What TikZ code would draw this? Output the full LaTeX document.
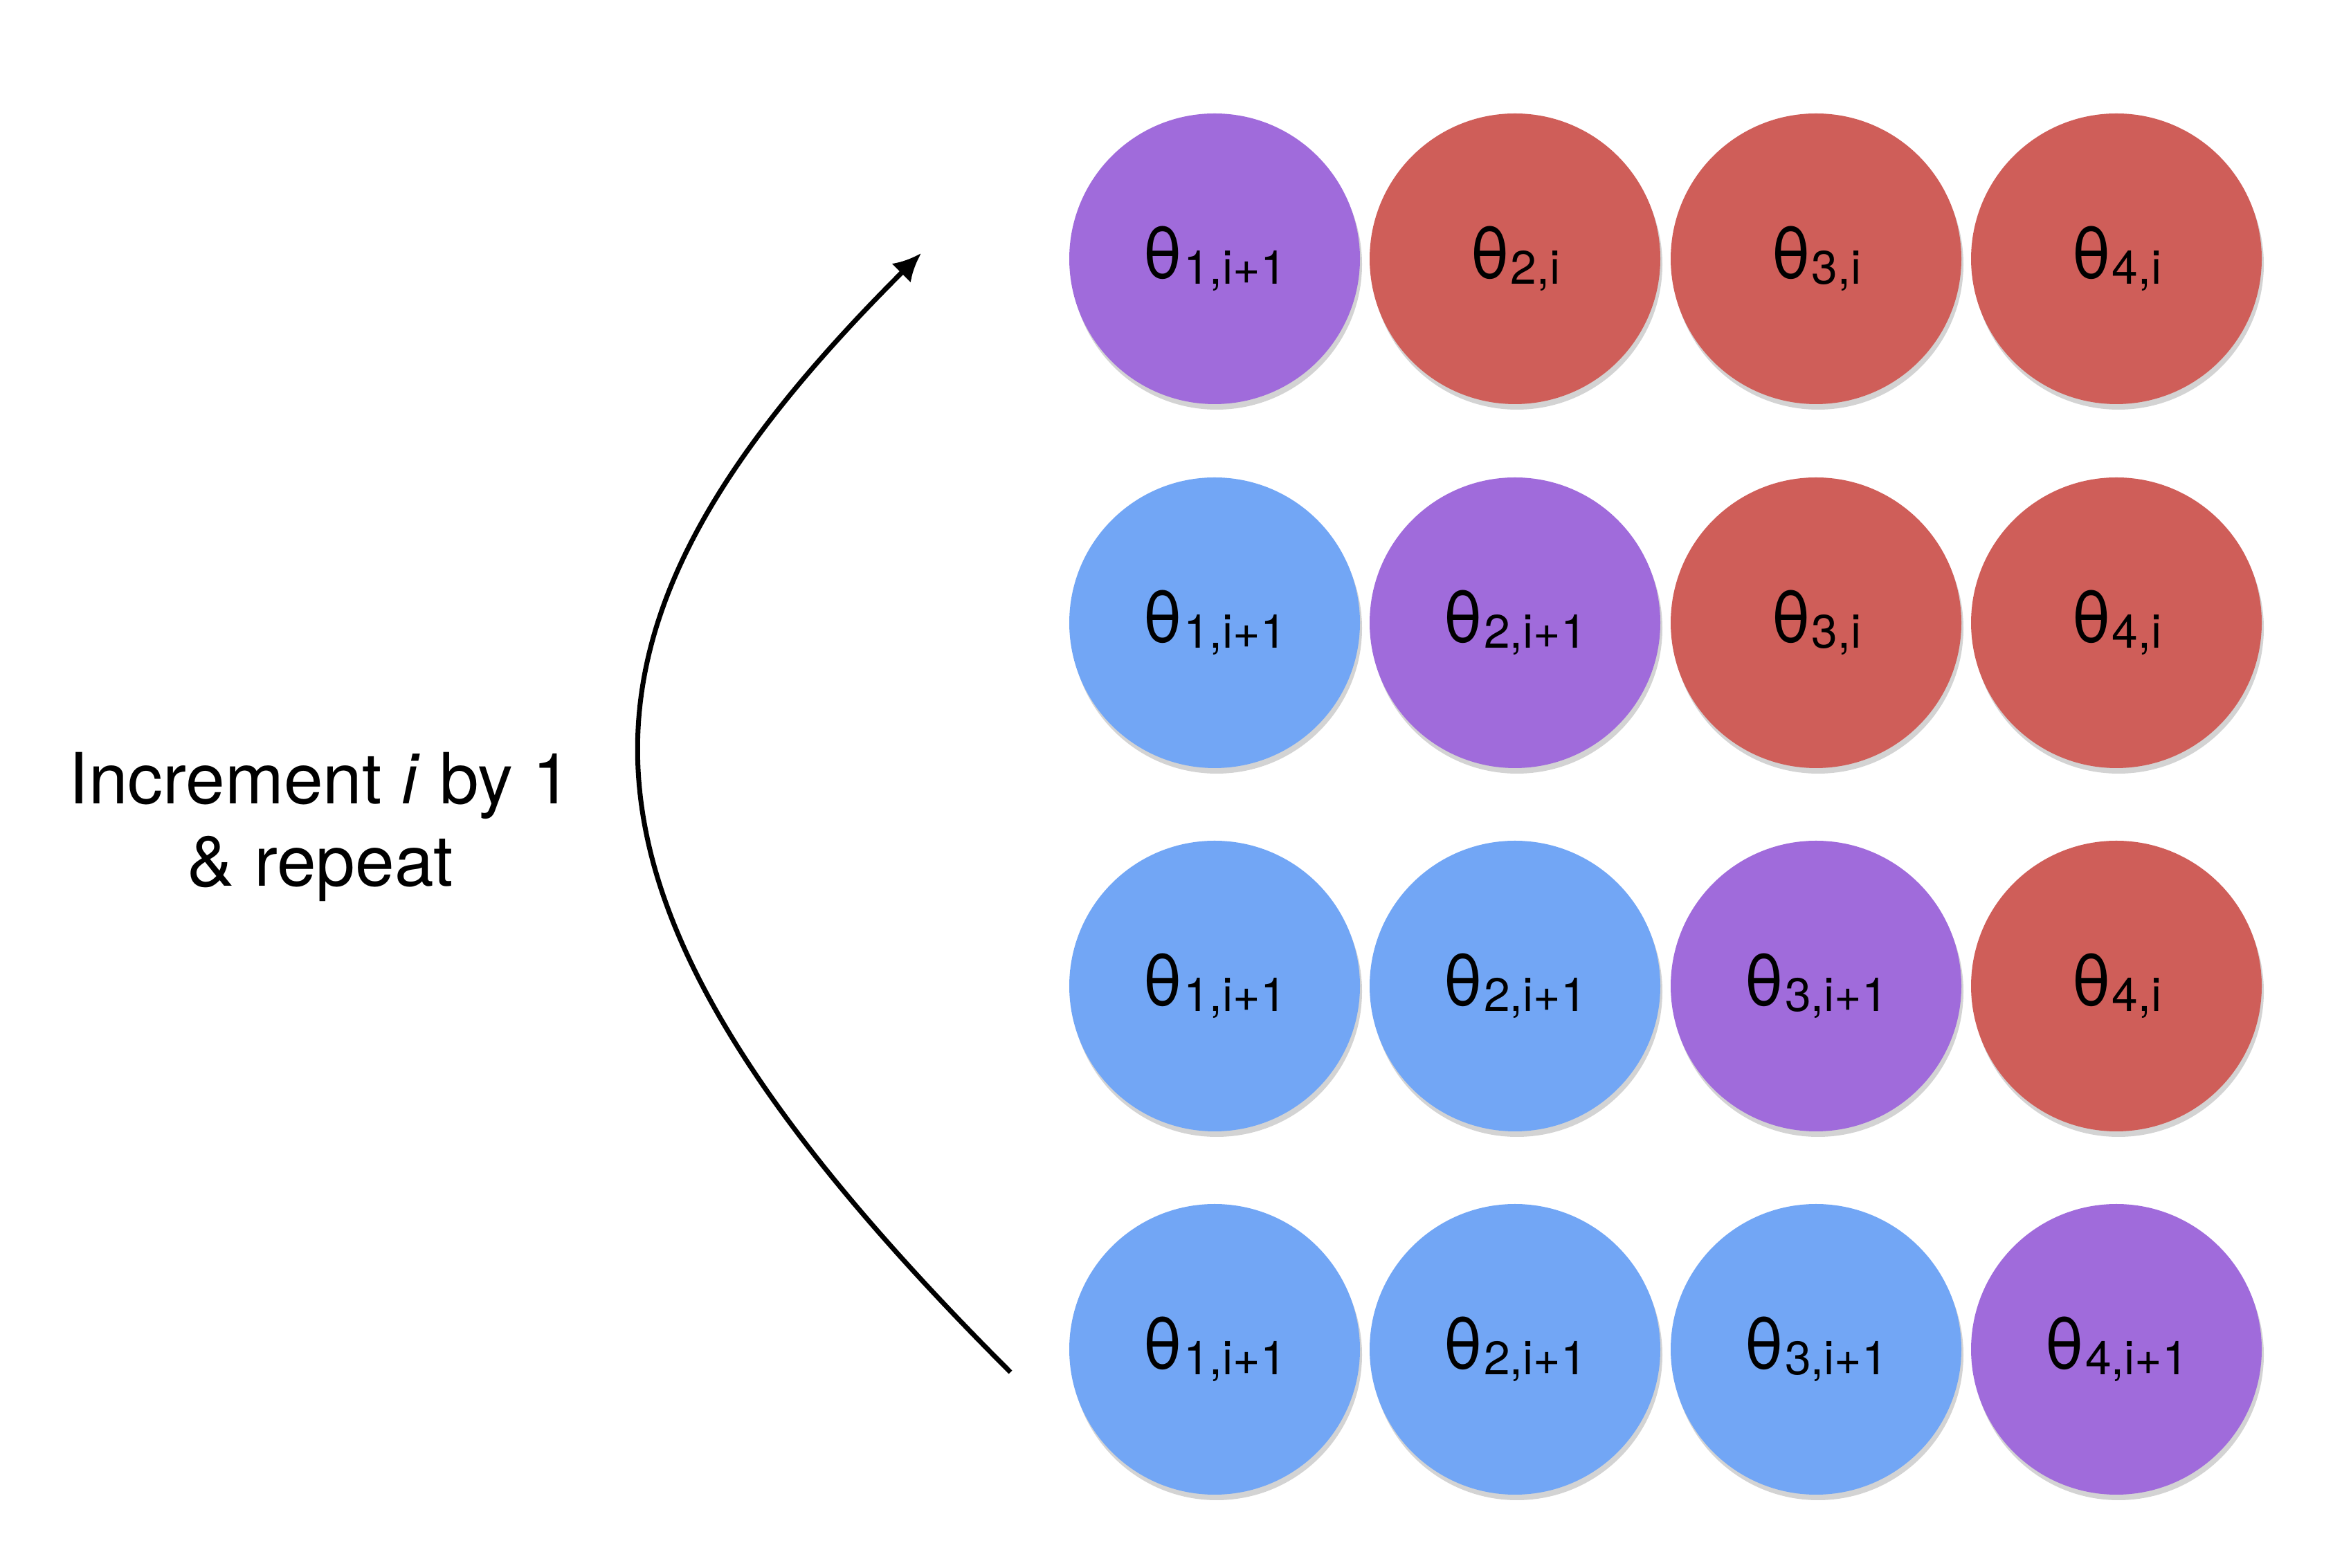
\documentclass[tikz,border=0pt]{standalone}
\usepackage{fontspec}
\setmainfont{TeX Gyre Heros}
\usetikzlibrary{shadows,arrows.meta}
\definecolor{newval}{HTML}{72A6F5}
\definecolor{curval}{HTML}{A06BDB}
\definecolor{oldval}{HTML}{CF5E59}
\tikzset{
  param/.style = {
    circle, minimum size=4.2cm, inner sep=0pt,
    drop shadow={shadow xshift=0.03cm, shadow yshift=-0.08cm, opacity=0.35},
    font=\fontsize{29}{29}\selectfont
  },
  new/.style = {param, fill=newval},
  cur/.style = {param, fill=curval},
  old/.style = {param, fill=oldval}
}
\tikzset{>={Latex[length=11.5pt,width=11pt]}}
\newcommand{\theparam}[2]{θ\raisebox{-0.08cm}{\fontsize{19.3}{19.3}\selectfont #1,#2}}

\begin{document}
\begin{tikzpicture}
  \useasboundingbox (0,0) rectangle (33.71,22.66);
  \foreach \y [count=\r] in {18.92,13.66,8.41,3.16}
    \foreach \x [count=\c] in {17.55,21.89,26.24,30.58} {
      \ifnum\c<\r \def\sty{new}\def\idx{i+1}\else
        \ifnum\c=\r \def\sty{cur}\def\idx{i+1}\else
          \def\sty{old}\def\idx{i}\fi\fi
      \node[\sty] (t\r\c) at (\x,\y) {\theparam{\c}{\idx}};
    }
  \node[font=\fontsize{29}{34}\selectfont, align=center, inner sep=0pt] (note)
    at (4.63,10.71) {Increment \textit{i} by 1\\ \& repeat};
  \coordinate (from) at (14.60,2.83);
  \coordinate (to)   at (13.31,19.00);
  \draw[->, line width=2pt] (from) .. controls (7.70,9.73) and (7.70,13.40) .. (to);
\end{tikzpicture}
\end{document}
